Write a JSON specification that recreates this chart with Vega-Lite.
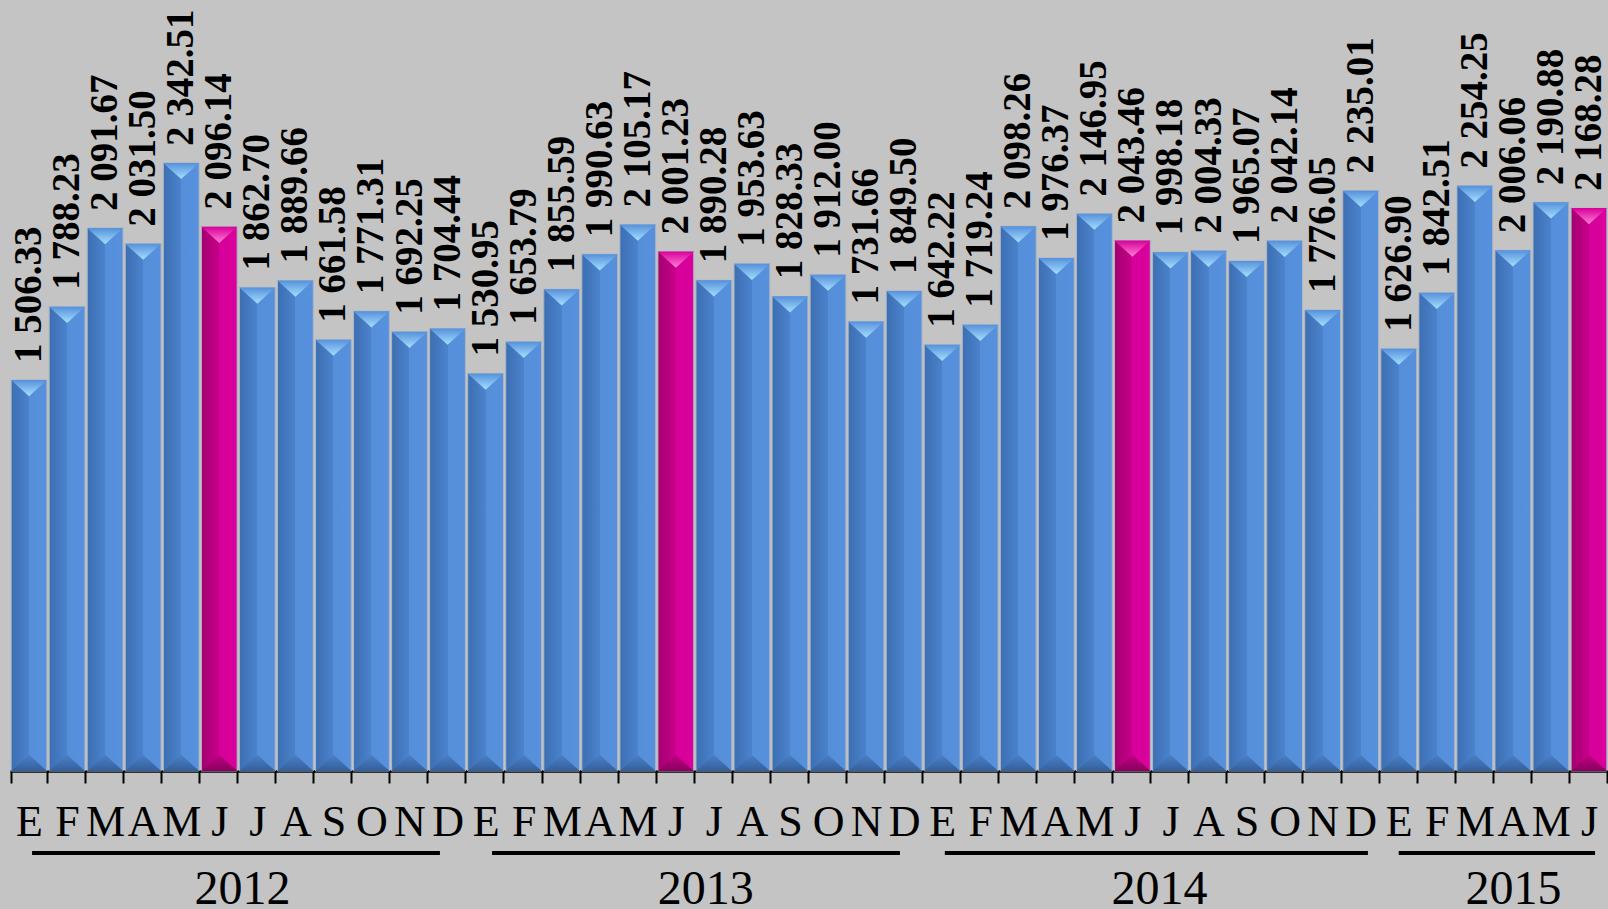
{
  "$schema": "https://vega.github.io/schema/vega-lite/v6.json",
  "background": "#c4c4c4",
  "padding": {"left": 10, "top": 0, "right": 0, "bottom": 0},
  "spacing": 7,
  "config": {
    "view": {"stroke": null},
    "locale": {"number": {"decimal": ".", "thousands": " ", "grouping": [3], "currency": ["", ""]}}
  },
  "datasets": {
    "sales": [
      {"k": "2012-01", "v": 1506.33}, {"k": "2012-02", "v": 1788.23}, {"k": "2012-03", "v": 2091.67},
      {"k": "2012-04", "v": 2031.50}, {"k": "2012-05", "v": 2342.51}, {"k": "2012-06", "v": 2096.14},
      {"k": "2012-07", "v": 1862.70}, {"k": "2012-08", "v": 1889.66}, {"k": "2012-09", "v": 1661.58},
      {"k": "2012-10", "v": 1771.31}, {"k": "2012-11", "v": 1692.25}, {"k": "2012-12", "v": 1704.44},
      {"k": "2013-01", "v": 1530.95}, {"k": "2013-02", "v": 1653.79}, {"k": "2013-03", "v": 1855.59},
      {"k": "2013-04", "v": 1990.63}, {"k": "2013-05", "v": 2105.17}, {"k": "2013-06", "v": 2001.23},
      {"k": "2013-07", "v": 1890.28}, {"k": "2013-08", "v": 1953.63}, {"k": "2013-09", "v": 1828.33},
      {"k": "2013-10", "v": 1912.00}, {"k": "2013-11", "v": 1731.66}, {"k": "2013-12", "v": 1849.50},
      {"k": "2014-01", "v": 1642.22}, {"k": "2014-02", "v": 1719.24}, {"k": "2014-03", "v": 2098.26},
      {"k": "2014-04", "v": 1976.37}, {"k": "2014-05", "v": 2146.95}, {"k": "2014-06", "v": 2043.46},
      {"k": "2014-07", "v": 1998.18}, {"k": "2014-08", "v": 2004.33}, {"k": "2014-09", "v": 1965.07},
      {"k": "2014-10", "v": 2042.14}, {"k": "2014-11", "v": 1776.05}, {"k": "2014-12", "v": 2235.01},
      {"k": "2015-01", "v": 1626.90}, {"k": "2015-02", "v": 1842.51}, {"k": "2015-03", "v": 2254.25},
      {"k": "2015-04", "v": 2006.06}, {"k": "2015-05", "v": 2190.88}, {"k": "2015-06", "v": 2168.28}
    ],
    "years": [
      {"year": "2012", "s": 0.58, "e": 11.3},
      {"year": "2013", "s": 12.67, "e": 23.39},
      {"year": "2014", "s": 24.57, "e": 35.69},
      {"year": "2015", "s": 36.5, "e": 41.66}
    ]
  },
  "vconcat": [
    {
      "width": 1598,
      "height": 771,
      "data": {"name": "sales"},
      "encoding": {
        "x": {
          "field": "k", "type": "ordinal", "sort": null,
          "scale": {"paddingInner": 0.06, "paddingOuter": 0.03},
          "axis": {
            "title": null, "labelAngle": 0, "tickBand": "extent",
            "domainColor": "#000000", "domainWidth": 2.5,
            "tickColor": "#000000", "tickWidth": 2, "tickSize": 12,
            "labelFont": "Liberation Serif", "labelFontSize": 44, "labelColor": "#000000",
            "labelPadding": 17, "labelOverlap": false,
            "labelExpr": "substring('EFMAMJJASOND', toNumber(substring(datum.value, 5, 7)) - 1, toNumber(substring(datum.value, 5, 7)))"
          }
        },
        "y": {
          "field": "v", "type": "quantitative",
          "scale": {"domain": [0, 2970], "nice": false},
          "axis": null
        }
      },
      "layer": [
        {
          "mark": {"type": "bar", "stroke": "#aab6c4", "strokeWidth": 1},
          "encoding": {
            "fill": {
              "condition": {
                "test": "substring(datum.k, 5, 7) == '06'",
                "value": {"gradient": "linear", "x1": 0, "y1": 0, "x2": 1, "y2": 0,
                  "stops": [{"offset": 0, "color": "#a3006f"}, {"offset": 0.5, "color": "#c8008a"}, {"offset": 0.5, "color": "#d6009a"}, {"offset": 1, "color": "#da009c"}]}
              },
              "value": {"gradient": "linear", "x1": 0, "y1": 0, "x2": 1, "y2": 0,
                "stops": [{"offset": 0, "color": "#3c6eb2"}, {"offset": 0.5, "color": "#4b83cc"}, {"offset": 0.5, "color": "#558fda"}, {"offset": 1, "color": "#5790dc"}]}
            }
          }
        },
        {
          "mark": {"type": "point", "shape": "M-1,0L1,0L0,0.9Z", "size": 1296, "filled": true, "opacity": 1, "strokeWidth": 0},
          "encoding": {
            "fill": {
              "condition": {
                "test": "substring(datum.k, 5, 7) == '06'",
                "value": {"gradient": "linear", "x1": 0, "y1": 0, "x2": 0, "y2": 1,
                  "stops": [{"offset": 0, "color": "#d8009a"}, {"offset": 1, "color": "#ff7fd6"}]}
              },
              "value": {"gradient": "linear", "x1": 0, "y1": 0, "x2": 0, "y2": 1,
                "stops": [{"offset": 0, "color": "#5591dc"}, {"offset": 1, "color": "#a6defd"}]}
            }
          }
        },
        {
          "mark": {"type": "point", "shape": "M-1,0L1,0L0,-0.9Z", "size": 1296, "filled": true, "opacity": 1, "strokeWidth": 0},
          "encoding": {
            "y": {"datum": 0, "type": "quantitative"},
            "fill": {
              "condition": {
                "test": "substring(datum.k, 5, 7) == '06'",
                "value": {"gradient": "linear", "x1": 0, "y1": 0, "x2": 0, "y2": 1,
                  "stops": [{"offset": 0, "color": "#c00084"}, {"offset": 1, "color": "#8a005c"}]}
              },
              "value": {"gradient": "linear", "x1": 0, "y1": 0, "x2": 0, "y2": 1,
                "stops": [{"offset": 0, "color": "#4a80c6"}, {"offset": 1, "color": "#34609c"}]}
            }
          }
        },
        {
          "mark": {"type": "text", "angle": 270, "align": "left", "baseline": "middle", "dx": 17,
            "font": "Liberation Serif", "fontWeight": "bold", "fontSize": 39, "color": "#000000"},
          "encoding": {
            "text": {"field": "v", "type": "quantitative", "format": ",.2f"}
          }
        }
      ]
    },
    {
      "width": 1598,
      "height": 4,
      "data": {"name": "years"},
      "mark": {"type": "rect", "color": "#000000"},
      "encoding": {
        "x": {
          "field": "s", "type": "quantitative",
          "scale": {"domain": [0, 42], "nice": false, "zero": false},
          "axis": {
            "title": null, "domain": false, "ticks": false, "grid": false,
            "values": [6.1, 18.27, 30.2, 39.5],
            "labelExpr": "datum.value < 12 ? '2012' : datum.value < 24 ? '2013' : datum.value < 36 ? '2014' : '2015'",
            "labelFont": "Liberation Serif", "labelFontSize": 48, "labelColor": "#000000",
            "labelPadding": 10, "labelFlush": false
          }
        },
        "x2": {"field": "e"}
      }
    }
  ]
}
